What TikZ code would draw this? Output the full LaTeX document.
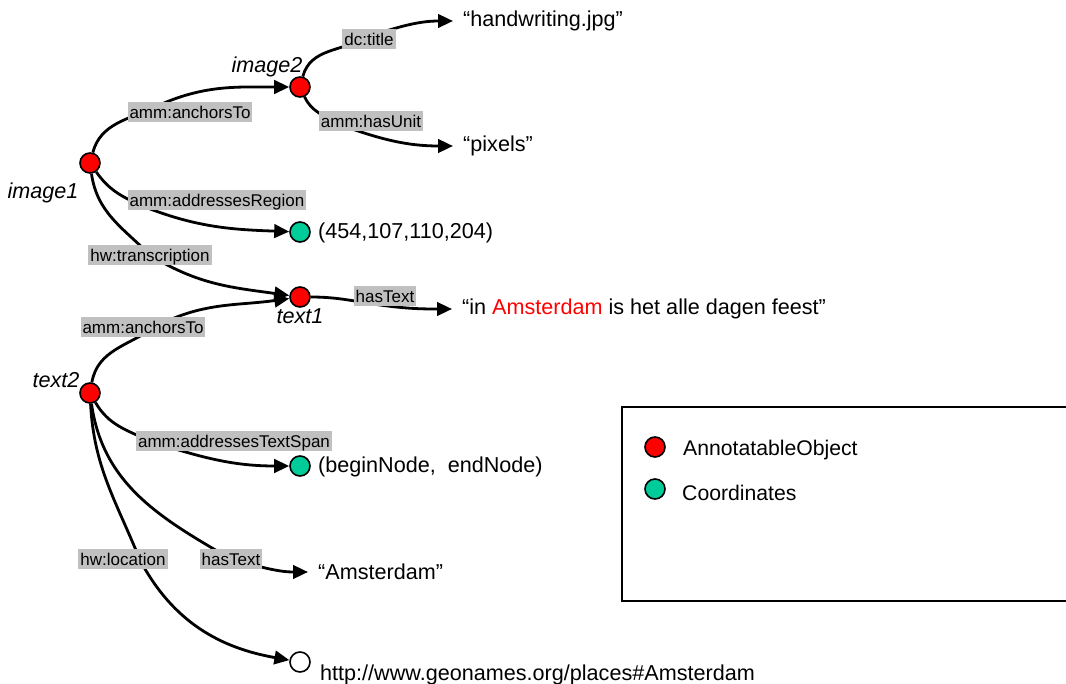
\documentclass[tikz,border=0pt]{standalone}
\usepackage{fontspec}
\setmainfont{Liberation Sans}
\usetikzlibrary{arrows.meta}
\definecolor{objred}{HTML}{FF0000}
\definecolor{coordgreen}{HTML}{00CC99}
\definecolor{lblgray}{HTML}{C0C0C0}
\begin{document}
\begin{tikzpicture}[x=1pt,y=1pt,
  obj/.style={circle,draw=black,line width=1.6pt,fill=objred,minimum size=20pt,inner sep=0pt},
  crd/.style={obj,fill=coordgreen},
  lit/.style={obj,fill=white},
  lbl/.style={fill=lblgray,inner xsep=2pt,inner ysep=1pt,text height=15.3pt,text depth=3pt,font=\fontsize{17}{19}\selectfont},
  txt/.style={anchor=west,inner xsep=10pt,inner ysep=0pt,font=\fontsize{21.6}{25}\selectfont},
  lgtxt/.style={anchor=west,inner sep=0pt,font=\fontsize{21.2}{25}\selectfont},
  objname/.style={font=\fontsize{21.6}{25}\selectfont\itshape,inner sep=0pt},
  edge/.style={line width=2.8pt,-{Triangle[length=15pt,width=13.5pt]}},
]
\useasboundingbox (0,0) rectangle (1066,-684);

% resource nodes
\node[obj] (image1) at (90,-163) {};
\node[obj] (image2) at (300,-87) {};
\node[obj] (text1) at (300,-297) {};
\node[obj] (text2) at (90,-393) {};
\node[crd] (g1) at (300,-232) {};
\node[crd] (g2) at (300,-466) {};
\node[lit] (url) at (300,-662) {};

% node names
\node[objname] (n1) at (43,-193) {image1};
\node[objname] (n2) at (267,-67) {image2};
\node[objname] (n3) at (300,-316) {text1};
\node[objname] (n4) at (56,-380) {text2};

% literal texts
\node[txt] (hwtext) at (453,-21) {“handwriting.jpg”};
\node[txt] (pixtext) at (453,-146) {“pixels”};
\node[txt] (regtext) at (308,-233) {(454,107,110,204)};
\node[txt] (t1text) at (452,-309) {“in {\color{objred}Amsterdam} is het alle dagen feest”};
\node[txt] (spantext) at (308,-467) {(beginNode,\ \ endNode)};
\node[txt] (amtext) at (308,-572) {“Amsterdam”};
\node[txt] (urltext) at (310,-675) {http://www.geonames.org/places\#Amsterdam};

% via points
\coordinate (v1) at (155,-107);
\coordinate (v2) at (140,-205);
\coordinate (v3) at (150,-255);
\coordinate (v4) at (155,-327);
\coordinate (v5) at (380,-305);
\coordinate (v6) at (367,-37);
\coordinate (v7) at (338,-124);
\coordinate (v8) at (150,-441);
\coordinate (v9) at (231,-559);
\coordinate (v10) at (140,-560);

% connectors
\draw[edge] (image1) to[out=75,in=205] (v1) to[out=25,in=180] (image2);
\draw[edge] (image1) to[out=-55,in=155] (v2) to[out=-22,in=178] (g1);
\draw[edge] (image1) to[out=-82,in=135] (v3) to[out=-32,in=172] (text1);
\draw[edge] (text2) to[out=80,in=215] (v4) to[out=28,in=188] (text1);
\draw[edge] (text1) to[out=0,in=172] (v5) to[out=-8,in=180] (t1text.west);
\draw[edge] (image2) to[out=75,in=210] (v6) to[out=18,in=180] (hwtext.west);
\draw[edge] (image2) to[out=-65,in=148] (v7) to[out=-20,in=180] (pixtext.west);
\draw[edge] (text2) to[out=-60,in=155] (v8) to[out=-18,in=180] (g2);
\draw[edge] (text2) to[out=-82,in=150] (v9) to[out=-15,in=180] (amtext.west);
\draw[edge] (text2) to[out=-87,in=112] (v10) to[out=-62,in=170] (url);

% connector labels
\node[lbl] (l1) at (190,-112) {amm:anchorsTo};
\node[lbl] (l2) at (217,-200) {amm:addressesRegion};
\node[lbl] (l3) at (150,-255) {hw:transcription};
\node[lbl] (l4) at (143,-327) {amm:anchorsTo};
\node[lbl] (l5) at (385,-296) {hasText};
\node[lbl] (l6) at (369,-39) {dc:title};
\node[lbl] (l7) at (371,-121) {amm:hasUnit};
\node[lbl] (l8) at (234,-441) {amm:addressesTextSpan};
\node[lbl] (l9) at (231,-559) {hasText};
\node[lbl] (l10) at (123,-559) {hw:location};

% legend
\draw[line width=1.5pt] (622,-407) rectangle (1075,-601);
\node[obj] (lg1) at (655,-447) {};
\node[crd] (lg2) at (655,-489) {};
\node[lgtxt] (lgt1) at (683,-450) {AnnotatableObject};
\node[lgtxt] (lgt2) at (682,-493) {Coordinates};
\end{tikzpicture}
\end{document}
